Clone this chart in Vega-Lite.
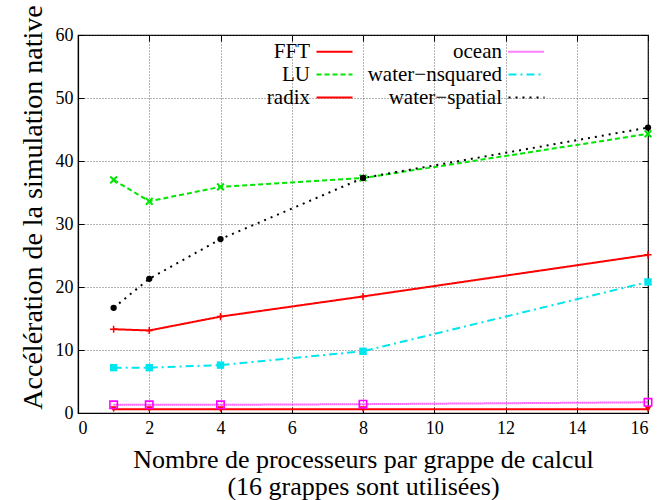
{
  "$schema": "https://vega.github.io/schema/vega-lite/v6.json",
  "width": 570,
  "height": 378,
  "autosize": {"type": "none"},
  "padding": {"left": 78, "top": 35, "right": 13, "bottom": 87},
  "background": "white",
  "config": {
    "font": "Liberation Serif",
    "view": {"stroke": "black", "strokeWidth": 1.2},
    "axis": {
      "domainColor": "black",
      "domainWidth": 1.2,
      "tickColor": "black",
      "tickSize": -6,
      "labelFont": "Liberation Serif",
      "labelFontSize": 18,
      "labelColor": "black",
      "titleFont": "Liberation Serif",
      "titleFontSize": 28,
      "titleFontWeight": "normal",
      "titleColor": "black",
      "gridColor": "#444444",
      "gridDash": [1, 2],
      "gridWidth": 0.8
    },
    "legend": {
      "labelFont": "Liberation Serif",
      "labelFontSize": 21,
      "labelColor": "black"
    }
  },
  "resolve": {"axis": {"x": "independent", "y": "independent"}},
  "data": {
    "values": [
      {"series": "FFT", "p": 1, "speedup": 13.3},
      {"series": "FFT", "p": 2, "speedup": 13.1},
      {"series": "FFT", "p": 4, "speedup": 15.3},
      {"series": "FFT", "p": 8, "speedup": 18.5},
      {"series": "FFT", "p": 16, "speedup": 25.1},
      {"series": "LU", "p": 1, "speedup": 37.0},
      {"series": "LU", "p": 2, "speedup": 33.6},
      {"series": "LU", "p": 4, "speedup": 35.9},
      {"series": "LU", "p": 8, "speedup": 37.3},
      {"series": "LU", "p": 16, "speedup": 44.3},
      {"series": "radix", "p": 1, "speedup": 0.6},
      {"series": "radix", "p": 2, "speedup": 0.6},
      {"series": "radix", "p": 4, "speedup": 0.6},
      {"series": "radix", "p": 8, "speedup": 0.6},
      {"series": "radix", "p": 16, "speedup": 0.6},
      {"series": "ocean", "p": 1, "speedup": 1.3},
      {"series": "ocean", "p": 2, "speedup": 1.3},
      {"series": "ocean", "p": 4, "speedup": 1.3},
      {"series": "ocean", "p": 8, "speedup": 1.4},
      {"series": "ocean", "p": 16, "speedup": 1.7},
      {"series": "water−nsquared", "p": 1, "speedup": 7.2},
      {"series": "water−nsquared", "p": 2, "speedup": 7.2},
      {"series": "water−nsquared", "p": 4, "speedup": 7.6},
      {"series": "water−nsquared", "p": 8, "speedup": 9.8},
      {"series": "water−nsquared", "p": 16, "speedup": 20.8},
      {"series": "water−spatial", "p": 1, "speedup": 16.7},
      {"series": "water−spatial", "p": 2, "speedup": 21.3},
      {"series": "water−spatial", "p": 4, "speedup": 27.6},
      {"series": "water−spatial", "p": 8, "speedup": 37.3},
      {"series": "water−spatial", "p": 16, "speedup": 45.3}
    ]
  },
  "encoding": {
    "x": {
      "field": "p",
      "type": "quantitative",
      "scale": {"domain": [0, 16], "nice": false}
    },
    "y": {
      "field": "speedup",
      "type": "quantitative",
      "scale": {"domain": [0, 60], "nice": false}
    }
  },
  "layer": [
    {
      "mark": {"type": "line", "strokeWidth": 2},
      "encoding": {
        "x": {
          "field": "p",
          "type": "quantitative",
          "scale": {"domain": [0, 16], "nice": false},
          "axis": {
            "values": [0, 2, 4, 6, 8, 10, 12, 14, 16],
            "labelPadding": 12,
            "title": ["Nombre de processeurs par grappe de calcul", "(16 grappes sont utilisées)"],
            "titleFontSize": 26,
            "titlePadding": 9,
            "titleLineHeight": 27
          }
        },
        "y": {
          "field": "speedup",
          "type": "quantitative",
          "scale": {"domain": [0, 60], "nice": false},
          "axis": {
            "values": [0, 10, 20, 30, 40, 50, 60],
            "labelPadding": 11,
            "title": "Accélération de la simulation native",
            "titlePadding": 8,
            "titleY": 172
          }
        },
        "color": {
          "field": "series",
          "type": "nominal",
          "scale": {
            "domain": ["FFT", "LU", "radix", "ocean", "water−nsquared", "water−spatial"],
            "range": ["#ff0000", "#00e600", "#ff0000", "#ff00ff", "#00e5ee", "#000000"]
          },
          "legend": {
            "orient": "none",
            "legendX": 246,
            "legendY": 6,
            "columns": 2,
            "title": null,
            "symbolType": "M-2,0H2",
            "symbolSize": 324,
            "symbolStrokeWidth": 2,
            "labelAlign": "right",
            "labelOffset": -35,
            "columnPadding": 10,
            "rowPadding": 1
          }
        },
        "strokeDash": {
          "field": "series",
          "type": "nominal",
          "scale": {
            "domain": ["FFT", "LU", "radix", "ocean", "water−nsquared", "water−spatial"],
            "range": [[1, 0], [5, 3], [1, 0], [1, 1], [8, 4, 2, 4], [2, 5]]
          },
          "legend": {
            "orient": "none",
            "legendX": 246,
            "legendY": 6,
            "columns": 2,
            "title": null,
            "symbolType": "M-2,0H2",
            "symbolSize": 324,
            "symbolStrokeWidth": 2,
            "labelAlign": "right",
            "labelOffset": -35,
            "columnPadding": 10,
            "rowPadding": 1
          }
        }
      }
    },
    {
      "transform": [{"filter": "datum.series === 'FFT'"}],
      "mark": {"type": "point", "shape": "M-1,0H1M0,-1V1", "size": 50, "strokeWidth": 1.5, "color": "#ff0000", "filled": false, "opacity": 1},
      "encoding": {
        "x": {
          "field": "p",
          "type": "quantitative",
          "axis": {"orient": "top", "values": [0, 2, 4, 6, 8, 10, 12, 14, 16], "labels": false, "grid": false, "domain": false, "title": null}
        },
        "y": {
          "field": "speedup",
          "type": "quantitative",
          "axis": {"orient": "right", "values": [0, 10, 20, 30, 40, 50, 60], "labels": false, "grid": false, "domain": false, "title": null}
        }
      }
    },
    {
      "transform": [{"filter": "datum.series === 'LU'"}],
      "mark": {"type": "point", "shape": "M-1,-1L1,1M-1,1L1,-1", "size": 45, "strokeWidth": 2, "color": "#00e600", "filled": false, "opacity": 1},
      "encoding": {
        "x": {"field": "p", "type": "quantitative", "axis": null},
        "y": {"field": "speedup", "type": "quantitative", "axis": null}
      }
    },
    {
      "transform": [{"filter": "datum.series === 'radix'"}],
      "mark": {"type": "point", "shape": "triangle-down", "size": 45, "color": "#ff0000", "filled": true, "opacity": 1},
      "encoding": {
        "x": {"field": "p", "type": "quantitative", "axis": null},
        "y": {"field": "speedup", "type": "quantitative", "axis": null}
      }
    },
    {
      "transform": [{"filter": "datum.series === 'ocean'"}],
      "mark": {"type": "point", "shape": "square", "size": 55, "strokeWidth": 1.6, "color": "#ff00ff", "filled": false, "opacity": 1},
      "encoding": {
        "x": {"field": "p", "type": "quantitative", "axis": null},
        "y": {"field": "speedup", "type": "quantitative", "axis": null}
      }
    },
    {
      "transform": [{"filter": "datum.series === 'water−nsquared'"}],
      "mark": {"type": "point", "shape": "square", "size": 55, "color": "#00e5ee", "filled": true, "opacity": 1},
      "encoding": {
        "x": {"field": "p", "type": "quantitative", "axis": null},
        "y": {"field": "speedup", "type": "quantitative", "axis": null}
      }
    },
    {
      "transform": [{"filter": "datum.series === 'water−spatial'"}],
      "mark": {"type": "point", "shape": "circle", "size": 40, "color": "#000000", "filled": true, "opacity": 1},
      "encoding": {
        "x": {"field": "p", "type": "quantitative", "axis": null},
        "y": {"field": "speedup", "type": "quantitative", "axis": null}
      }
    }
  ]
}
